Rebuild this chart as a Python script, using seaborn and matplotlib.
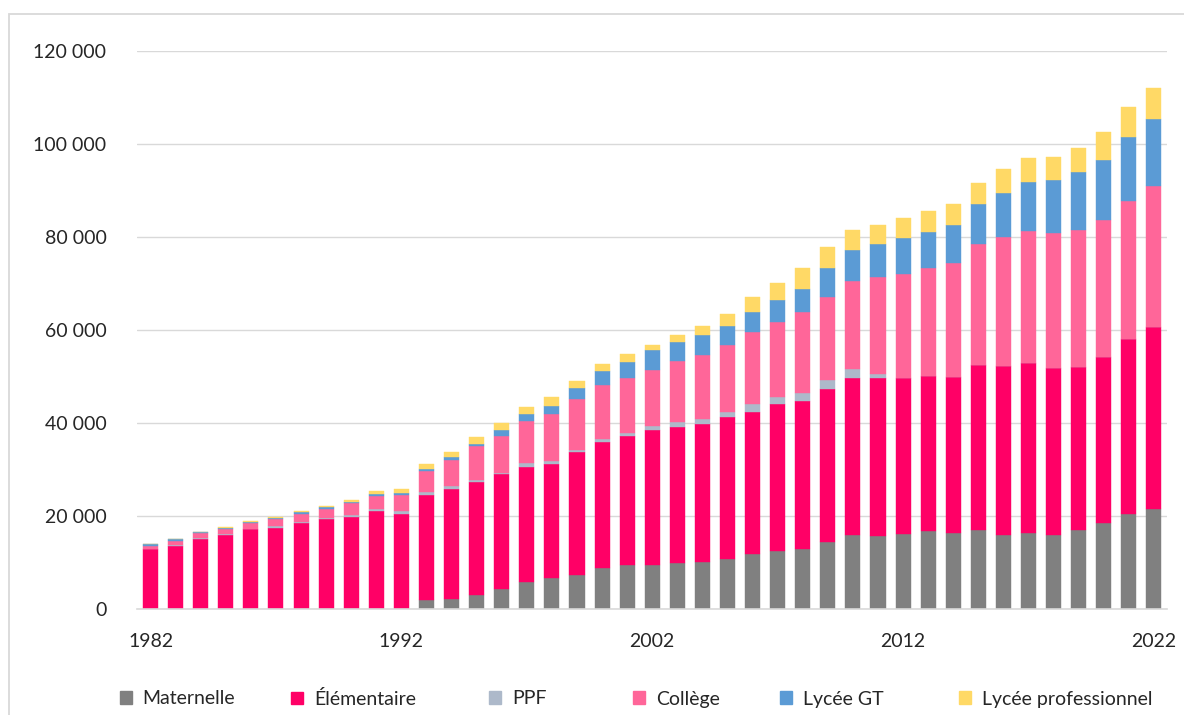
import numpy as np
import pandas as pd
import seaborn as sns
import matplotlib.pyplot as plt
from matplotlib.patches import Patch, Rectangle

years = list(range(1982, 2023))

maternelle = [0, 0, 0, 0, 0, 0, 0, 0, 0, 0, 0,
              1900, 2200, 3000, 4300, 5700, 6600, 7400, 8900, 9500, 9500,
              9800, 10100, 10700, 11800, 12400, 13000, 14400, 15900, 15600, 16200,
              16700, 16300, 16900, 16000, 16300, 16000, 16900, 18600, 20400, 21600]
elementaire = [12800, 13600, 15100, 15900, 17100, 17400, 18400, 19300, 19800, 21000, 20500,
               22700, 23600, 24400, 24700, 24900, 24500, 26300, 27100, 27800, 29100,
               29400, 29600, 30500, 30600, 31700, 31800, 33000, 33800, 34000, 33500,
               33400, 33600, 35500, 36300, 36600, 35800, 35200, 35500, 37600, 39000]
ppf = [100, 100, 100, 200, 200, 500, 400, 200, 500, 500, 600,
       500, 600, 400, 300, 700, 700, 500, 600, 500, 700,
       1100, 1200, 1100, 1700, 1400, 1600, 1900, 2000, 1000, 0,
       0, 0, 0, 0, 0, 0, 0, 0, 0, 0]
college = [700, 1000, 1100, 1200, 1200, 1400, 1600, 2000, 2400, 2800, 3400,
           4500, 5700, 7200, 8000, 9200, 10200, 11000, 11500, 11900, 12200,
           13100, 13800, 14400, 15400, 16200, 17400, 17900, 18800, 20900, 22300,
           23200, 24600, 26100, 27800, 28400, 29000, 29500, 29500, 29800, 30400]
lycee_gt = [300, 300, 300, 200, 200, 300, 400, 400, 400, 500, 500,
            600, 600, 500, 1200, 1400, 1700, 2400, 3000, 3500, 4100,
            4000, 4200, 4100, 4400, 4700, 5000, 6200, 6700, 7000, 7700,
            7700, 8100, 8500, 9400, 10500, 11400, 12300, 12900, 13700, 14400]
lycee_pro = [100, 100, 0, 200, 200, 200, 200, 200, 400, 600, 900,
             900, 1100, 1400, 1400, 1500, 1800, 1400, 1500, 1700, 1200,
             1600, 2000, 2600, 3200, 3700, 4500, 4400, 4400, 4100, 4400,
             4600, 4600, 4600, 5100, 5100, 4900, 5300, 6100, 6400, 6700]

labels = ["Maternelle", "Élémentaire", "PPF", "Collège", "Lycée GT", "Lycée professionnel"]
colors = ["#808080", "#ff0066", "#adb9ca", "#ff6699", "#5b9bd5", "#ffd966"]
series = [maternelle, elementaire, ppf, college, lycee_gt, lycee_pro]

sns.set_theme(style="white")
plt.rcParams['font.family'] = ['Lato', 'DejaVu Sans']

fig = plt.figure(figsize=(11.84, 7.15), dpi=100)
ax = fig.add_axes([137/1184, 1-609/715, (1167-137)/1184, (609-51)/715])

df = pd.DataFrame({"year": years})
bottom = np.zeros(len(years))
for lab, col, vals in zip(labels, colors, series):
    df[lab] = vals
    sns.barplot(data=df, x="year", y=lab, color=col, bottom=bottom, width=0.6,
                saturation=1, edgecolor=col, linewidth=0.3, ax=ax)
    bottom = bottom + np.array(vals)

ax.set_xlim(-0.54, 40.52)
ax.set_ylim(0, 120000)
ax.set_yticks(range(0, 120001, 20000))
ax.set_yticklabels([f"{v:,}".replace(",", " ") for v in range(0, 120001, 20000)])
ax.set_xticks([0, 10, 20, 30, 40])
ax.set_xticklabels(["1982", "1992", "2002", "2012", "2022"])
ax.set_xlabel("")
ax.set_ylabel("")
ax.yaxis.grid(True, color="#d9d9d9", linewidth=1)
ax.set_axisbelow(True)
for s in ["top", "right", "left"]:
    ax.spines[s].set_visible(False)
ax.spines["bottom"].set_color("#d9d9d9")
ax.spines["bottom"].set_linewidth(1.2)
ax.tick_params(axis="x", length=0, pad=17, labelsize=14, labelcolor="#262626")
ax.tick_params(axis="y", length=0, pad=22, labelsize=14, labelcolor="#262626")

# legend entries placed one by one, as in the source
legend_x = [119.5, 291, 489, 633, 780, 959]
for lab, col, lx in zip(labels, colors, legend_x):
    leg = fig.legend(handles=[Patch(facecolor=col, edgecolor=col, label=lab)],
                     loc="center left", bbox_to_anchor=(lx/1184, 1-699/715),
                     frameon=False, fontsize=14, handlelength=0.62, handleheight=0.62,
                     handletextpad=0.55, borderpad=0, borderaxespad=0)
    for t in leg.get_texts():
        t.set_color("#262626")

fig.patches.append(Rectangle((8.5/1184, -0.1), 1.2, 1.1-14/715, transform=fig.transFigure,
                             fill=False, edgecolor="#d9d9d9", linewidth=1.3))

plt.savefig("out.png", dpi=100)
